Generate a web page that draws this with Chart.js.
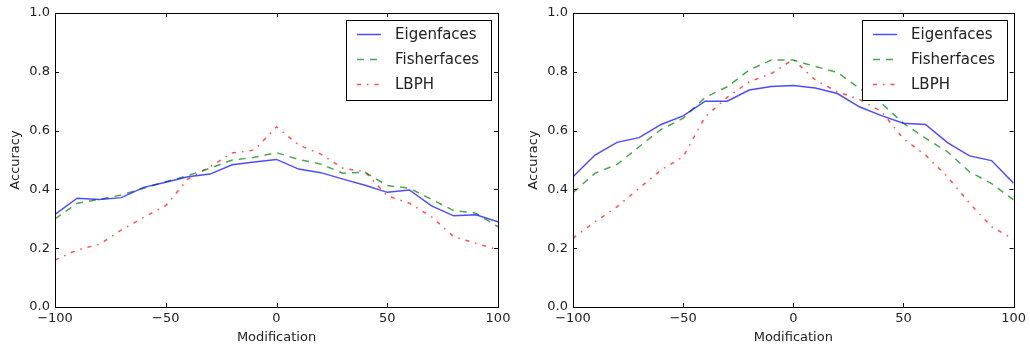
<!DOCTYPE html>
<html>
<head>
<meta charset="utf-8">
<script src="https://cdn.jsdelivr.net/npm/chart.js@4.4.1/dist/chart.umd.min.js"></script>
<style>
  html, body { margin: 0; padding: 0; background: #fff; }
  body { width: 1030px; height: 353px; position: relative; overflow: hidden; }
  .panel { position: absolute; top: 0; height: 353px; }
  #leftPanel { left: 0; width: 515px; }
  #rightPanel { left: 518px; width: 512px; }
</style>
</head>
<body>
<div class="panel" id="leftPanel"><canvas id="leftChart" width="515" height="353"></canvas></div>
<div class="panel" id="rightPanel"><canvas id="rightChart" width="512" height="353"></canvas></div>
<script>
// x 轴：修改量
const modification = [-100, -90, -80, -70, -60, -50, -40, -30, -20, -10, 0, 10, 20, 30, 40, 50, 60, 70, 80, 90, 100];
const seriesNames = ['Eigenfaces', 'Fisherfaces', 'LBPH'];

// 左图
const leftEigen = [0.315, 0.37, 0.366, 0.372, 0.407, 0.424, 0.443, 0.452, 0.484, 0.493, 0.502, 0.469, 0.457, 0.435, 0.414, 0.39, 0.398, 0.344, 0.31, 0.314, 0.29];
const leftFisher = [0.30, 0.353, 0.366, 0.381, 0.404, 0.426, 0.447, 0.472, 0.50, 0.509, 0.525, 0.502, 0.486, 0.455, 0.458, 0.413, 0.404, 0.366, 0.328, 0.319, 0.273];
const leftLbph = [0.16, 0.194, 0.213, 0.262, 0.305, 0.345, 0.435, 0.477, 0.524, 0.534, 0.613, 0.551, 0.52, 0.472, 0.46, 0.378, 0.353, 0.307, 0.239, 0.217, 0.194];

// 右图
const rightEigen = [0.443, 0.517, 0.56, 0.576, 0.621, 0.65, 0.70, 0.70, 0.738, 0.75, 0.753, 0.745, 0.726, 0.681, 0.651, 0.625, 0.621, 0.559, 0.514, 0.498, 0.421];
const rightFisher = [0.389, 0.455, 0.485, 0.545, 0.604, 0.642, 0.713, 0.749, 0.806, 0.84, 0.84, 0.818, 0.798, 0.744, 0.693, 0.625, 0.574, 0.528, 0.46, 0.42, 0.364];
const rightLbph = [0.234, 0.29, 0.341, 0.404, 0.466, 0.511, 0.647, 0.713, 0.766, 0.794, 0.842, 0.772, 0.732, 0.706, 0.665, 0.572, 0.517, 0.443, 0.353, 0.273, 0.23];

// 刻度
const xTicks = [-100, -50, 0, 50, 100];
const yTicks = [0.0, 0.2, 0.4, 0.6, 0.8, 1.0];

const styles = [
  { color: 'rgba(0, 0, 255, 0.7)', dash: [] },
  { color: 'rgba(0, 128, 0, 0.7)', dash: [7, 6] },
  { color: 'rgba(255, 0, 0, 0.7)', dash: [4, 6, 1.5, 6] }
];

const FONT = "'DejaVu Sans', sans-serif";
const TEXT = '#222';

// 边框、内向刻度与图例（matplotlib classic 风格）
const frameLegend = {
  id: 'frameLegend',
  afterDraw(chart) {
    const ctx = chart.ctx;
    const a = chart.chartArea;
    const xs = chart.scales.x, ys = chart.scales.y;
    ctx.save();
    ctx.strokeStyle = '#000';
    ctx.lineWidth = 1;
    ctx.strokeRect(Math.round(a.left) + 0.5, Math.round(a.top) + 0.5,
      Math.round(a.right - a.left), Math.round(a.bottom - a.top));
    ctx.beginPath();
    xTicks.forEach(v => {
      const px = Math.round(xs.getPixelForValue(v)) + 0.5;
      ctx.moveTo(px, a.bottom); ctx.lineTo(px, a.bottom - 4);
      ctx.moveTo(px, a.top); ctx.lineTo(px, a.top + 4);
    });
    yTicks.forEach(v => {
      const py = Math.round(ys.getPixelForValue(v)) + 0.5;
      ctx.moveTo(a.left, py); ctx.lineTo(a.left + 4, py);
      ctx.moveTo(a.right, py); ctx.lineTo(a.right - 4, py);
    });
    ctx.stroke();

    // 图例
    const w = 145, h = 80;
    const bx = Math.round(a.right - 7 - w), by = Math.round(a.top + 7);
    ctx.fillStyle = '#fff';
    ctx.fillRect(bx, by, w, h);
    ctx.strokeStyle = '#000';
    ctx.strokeRect(bx + 0.5, by + 0.5, w, h);
    ctx.font = '15px ' + FONT;
    ctx.textBaseline = 'middle';
    chart.data.datasets.forEach((ds, i) => {
      const y = by + 14.5 + i * 25;
      ctx.strokeStyle = ds.borderColor;
      ctx.lineWidth = 1.5;
      ctx.setLineDash(ds.borderDash);
      ctx.beginPath();
      ctx.moveTo(bx + 11, y); ctx.lineTo(bx + 35, y);
      ctx.stroke();
      ctx.setLineDash([]);
      ctx.fillStyle = TEXT;
      ctx.fillText(ds.label, bx + 49, y + 1);
    });
    ctx.restore();
  }
};

function makeChart(canvasId, values, padRight) {
  const canvas = document.getElementById(canvasId);
  return new Chart(canvas, {
    type: 'line',
    data: {
      datasets: values.map((vals, i) => ({
        label: seriesNames[i],
        data: modification.map((m, k) => ({ x: m, y: vals[k] })),
        borderColor: styles[i].color,
        borderDash: styles[i].dash,
        borderWidth: 1.5,
        pointRadius: 0,
        tension: 0,
        fill: false
      }))
    },
    options: {
      responsive: false,
      animation: false,
      layout: { padding: { top: 13, right: padRight, bottom: 0, left: 0 } },
      plugins: { legend: { display: false }, tooltip: { enabled: false } },
      scales: {
        x: {
          type: 'linear',
          min: -100, max: 100,
          afterBuildTicks: s => { s.ticks = xTicks.map(v => ({ value: v })); },
          afterFit: s => { s.height = 46; },
          grid: { display: false, drawTicks: false },
          border: { display: false },
          ticks: {
            padding: 4, color: TEXT, maxRotation: 0, autoSkip: false,
            font: { family: FONT, size: 13 },
            callback: v => (v < 0 ? '\u2212' + Math.abs(v) : String(v))
          },
          title: {
            display: true, text: 'Modification', color: TEXT,
            font: { family: FONT, size: 13 }, padding: { top: 0, bottom: 8 }
          }
        },
        y: {
          min: 0, max: 1,
          afterBuildTicks: s => { s.ticks = yTicks.map(v => ({ value: v })); },
          afterFit: s => { s.width = 55; },
          grid: { display: false, drawTicks: false },
          border: { display: false },
          ticks: {
            padding: 5, color: TEXT, autoSkip: false,
            font: { family: FONT, size: 13 },
            callback: v => Number(v).toFixed(1)
          },
          title: {
            display: true, text: 'Accuracy', color: TEXT,
            font: { family: FONT, size: 13 }, padding: { top: 8, bottom: 0 }
          }
        }
      }
    },
    plugins: [frameLegend]
  });
}

makeChart('leftChart', [leftEigen, leftFisher, leftLbph], 17);
makeChart('rightChart', [rightEigen, rightFisher, rightLbph], 13);
</script>
</body>
</html>
